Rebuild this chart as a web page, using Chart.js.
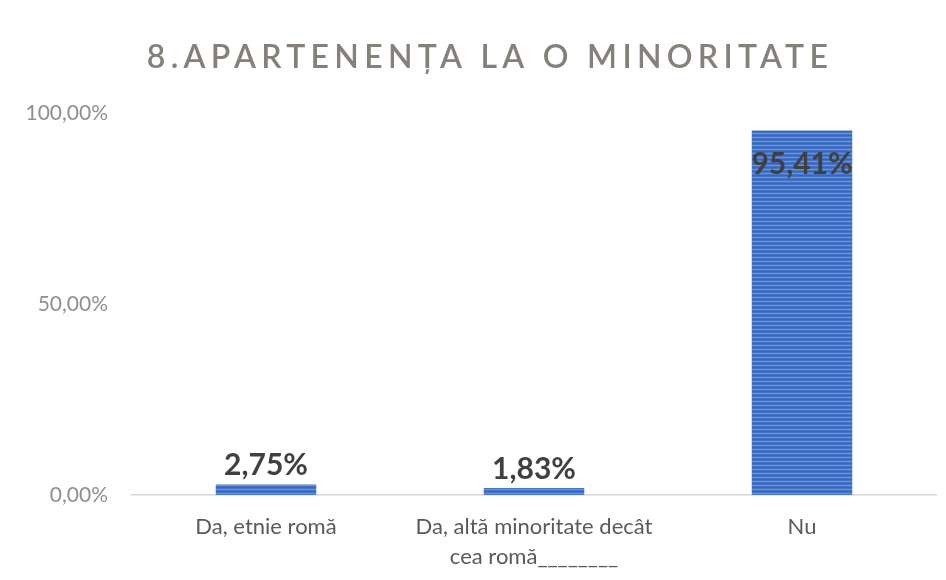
<!DOCTYPE html>
<html>
<head>
<meta charset="utf-8">
<script src="https://cdn.jsdelivr.net/npm/chart.js@4.4.1/dist/chart.umd.min.js"></script>
<style>
	html, body { margin: 0; padding: 0; background: #fff; }
	#wrap { width: 946px; height: 580px; }
</style>
</head>
<body>
<div id="wrap"><canvas id="minority-chart"></canvas></div>
<script>
const titleText = '8.APARTENENȚA LA O MINORITATE';
const categories = [
	'Da, etnie romă',
	['Da, altă minoritate decât', 'cea romă________'],
	'Nu'
];
const values = [2.75, 1.83, 95.41];
const yTicks = [0, 50, 100];

const fmt = v => v.toFixed(2).replace('.', ',') + '%';

// striped blue fill like the scanned bars
const stripes = (() => {
	const c = document.createElement('canvas');
	c.width = 4;
	c.height = 4;
	const g = c.getContext('2d');
	g.fillStyle = '#4674c6';
	g.fillRect(0, 0, 4, 4);
	g.fillStyle = '#6a90d8';
	g.fillRect(0, 1, 4, 1);
	g.fillStyle = '#3a66b8';
	g.fillRect(0, 3, 4, 1);
	return g.createPattern(c, 'repeat');
})();

const titlePlugin = {
	id: 'spacedTitle',
	afterDraw(chart) {
		const ctx = chart.ctx;
		ctx.save();
		ctx.font = '600 32px Lato, "Open Sans", sans-serif';
		ctx.fillStyle = '#858079';
		ctx.textAlign = 'center';
		ctx.textBaseline = 'alphabetic';
		ctx.letterSpacing = '5.3px';
		ctx.fillText(titleText, 490, 68);
		ctx.restore();
	}
};

const labelPlugin = {
	id: 'valueLabels',
	afterDatasetsDraw(chart) {
		const ctx = chart.ctx,
			meta = chart.getDatasetMeta(0);
		ctx.save();
		ctx.font = 'bold 30px Lato, "Open Sans", sans-serif';
		ctx.fillStyle = '#404040';
		ctx.textAlign = 'center';
		ctx.textBaseline = 'alphabetic';
		meta.data.forEach((bar, i) => {
			const text = fmt(values[i]);
			if (bar.y - 40 < chart.chartArea.top) {
				ctx.fillText(text, bar.x, bar.y + 43);
			} else {
				ctx.fillText(text, bar.x, bar.y - 9);
			}
		});
		ctx.restore();
	}
};

new Chart(document.getElementById('minority-chart'), {
	type: 'bar',
	data: {
		labels: categories,
		datasets: [{
			data: values,
			backgroundColor: stripes,
			borderWidth: 0,
			barPercentage: 0.75,
			categoryPercentage: 0.5
		}]
	},
	options: {
		responsive: true,
		maintainAspectRatio: false,
		animation: false,
		layout: {
			padding: { top: 113, right: 10, left: 0, bottom: 0 }
		},
		plugins: {
			legend: { display: false },
			tooltip: { enabled: false }
		},
		scales: {
			x: {
				grid: { display: false, drawTicks: false },
				border: { display: true, color: '#d8d0dc', width: 1.5 },
				ticks: {
					color: '#595959',
					padding: 17,
					font: { family: 'Lato, "Open Sans", sans-serif', size: 22, lineHeight: 1.36 }
				},
				afterFit(scale) {
					scale.height = 85;
				}
			},
			y: {
				min: 0,
				max: 100,
				afterBuildTicks(scale) {
					scale.ticks = yTicks.map(v => ({ value: v }));
				},
				grid: { display: false, drawTicks: false },
				border: { display: false },
				ticks: {
					color: '#8f8f8f',
					padding: 24,
					font: { family: 'Lato, "Open Sans", sans-serif', size: 21 },
					callback: v => fmt(v)
				},
				afterFit(scale) {
					scale.width = 132;
				}
			}
		}
	},
	plugins: [titlePlugin, labelPlugin]
});
</script>
</body>
</html>
